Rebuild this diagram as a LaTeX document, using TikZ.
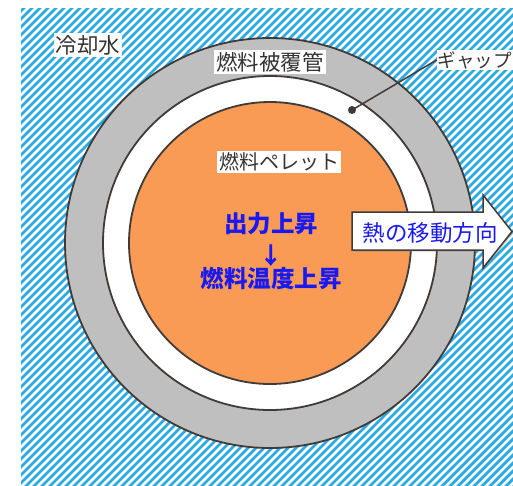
\documentclass[tikz,border=0pt]{standalone}
\usepackage{fontspec}
\newfontfamily\jp{Noto Sans CJK JP}
\usetikzlibrary{shadows}
\definecolor{hatchblue}{HTML}{2AAAE4}
\definecolor{pelletorange}{HTML}{F99A55}
\definecolor{cladgray}{HTML}{BFBFBF}
\definecolor{edgedark}{HTML}{403A38}
\definecolor{txtblue}{HTML}{1A1AF0}
\tikzset{
  ring/.style={circle, draw=edgedark, line width=1.8pt, inner sep=0pt},
  lbl/.style={fill=white, inner sep=2pt, font=\jp\fontsize{21.5}{24}\selectfont, text=black!80},
  bluelbl/.style={inner sep=0pt, font=\jp\bfseries\fontsize{23.5}{26}\selectfont, text=txtblue},
}
\begin{document}
\begin{tikzpicture}[x=1pt,y=-1pt]
\useasboundingbox (0,0) rectangle (513,485);
% water hatch
\begin{scope}
  \clip (21,8) rectangle (513,485);
  \foreach \k in {0,8,...,1016} {
    \draw[hatchblue, line width=2.8pt] (\k,0) -- (\k-520,520);
  }
\end{scope}
% rings
\node[ring, fill=cladgray, minimum size=410pt] (clad) at (270,243) {};
\node[ring, fill=white, minimum size=334pt] (gap) at (270,243) {};
\node[ring, fill=pelletorange, minimum size=282pt] (pellet) at (270,243) {};
% labels
\node[lbl] (water) at (88,45) {冷却水};
\node[lbl] (cladlbl) at (270,62) {燃料被覆管};
\node[lbl, font=\jp\fontsize{18.5}{22}\selectfont, anchor=east, inner sep=1pt] (gaplbl) at (513,60) {ギャップ};
\node[lbl, font=\jp\fontsize{20}{24}\selectfont] (pelletlbl) at (279,162) {燃料ペレット};
% gap leader
\node[circle, fill=edgedark, minimum size=8pt, inner sep=0pt] (gapdot) at (352,110) {};
\draw[edgedark, line width=1.5pt] (gapdot.center) -- (gaplbl.west);
% blue texts
\node[bluelbl] (t1) at (271,224) {出力上昇};
\node[bluelbl] (t2) at (271,256) {↓};
\node[bluelbl] (t3) at (271,279) {燃料温度上昇};
% heat arrow
\draw[fill=white, draw=edgedark, line width=1.5pt, line join=miter,
      drop shadow={opacity=0.35, shadow xshift=1.5pt, shadow yshift=-1.5pt}]
  (352,212) -- (483,212) -- (483,195) -- (512,231.5) -- (483,268) -- (483,250) -- (352,250) -- cycle;
\node[inner sep=0pt, font=\jp\fontsize{22.5}{26}\selectfont, text=txtblue] (heat) at (430,233) {熱の移動方向};
\end{tikzpicture}
\end{document}
